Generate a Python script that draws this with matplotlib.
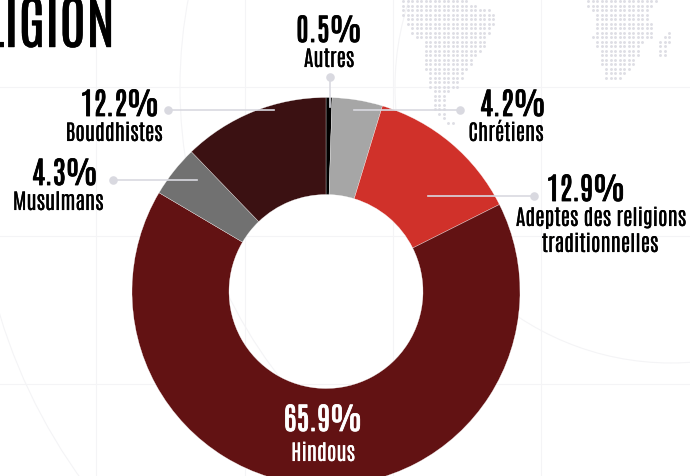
import matplotlib
matplotlib.use("Agg")
import matplotlib.pyplot as plt
import matplotlib.patheffects as pe
from matplotlib.patches import Circle

W, H = 690, 476

# religion split, clockwise from the top
labels = ["Autres", "Chrétiens", "Adeptes des religions\ntraditionnelles", "Hindous", "Musulmans", "Bouddhistes"]
shares = [0.5, 4.2, 12.9, 65.9, 4.3, 12.2]
colors = ["#000000", "#a6a6a6", "#d0312a", "#621213", "#717171", "#3b1112"]

# dotted map rows: (first column, last column), one entry per row
america_rows = [(0, 14), (0, 16), (0, 19), (0, 20), (1, 20), (1, 20), (2, 19), (2, 19), (3, 18), (5, 18),
                (5, 18), (5, 17), (5, 16), (5, 15), (5, 15), (5, 14), (6, 13), (6, 13), (6, 12), (6, 12),
                (7, 10), (7, 9), (7, 9), (7, 9), (7, 9), (8, 9), (9, 9), (10, 11)]
africa_rows = [(0, 15), (0, 14), (1, 13), (2, 13), (2, 13), (2, 14), (2, 14), (2, 14), (1, 14), (2, 12),
               (2, 11), (3, 11), (3, 11), (3, 10), (3, 10), (4, 9), (4, 8), (4, 7)]
island_rows = [(18, 18), (17, 18), (16, 18), (16, 17), (16, 17), (16, 17)]


def py(y):
    """Pixel row counted from the top -> data y."""
    return H - y


def draw_dots(ax, rows, x0, first_row=0):
    xs, ys = [], []
    for i, (a, b) in enumerate(rows):
        for col in range(a, b + 1):
            xs.append(x0 + col * 4.5)
            ys.append(py(1 + (first_row + i) * 4.5))
    ax.scatter(xs, ys, s=4.5, color="#dedee5", linewidths=0, zorder=1)


fig = plt.figure(figsize=(W / 100, H / 100), dpi=100)
ax = fig.add_axes([0, 0, 1, 1])

# faint background grid and circles
for x in [96, 245, 393, 541]:
    ax.plot([x, x], [0, H], color="#f4f4f6", lw=0.8, zorder=0)
for y in [87, 236, 384]:
    ax.plot([0, W], [py(y), py(y)], color="#f4f4f6", lw=0.8, zorder=0)
for cx, cy, r in [(671, 87, 276), (653, 87, 473), (531, 154, 555)]:
    ax.add_patch(Circle((cx, py(cy)), r, fill=False, edgecolor="#f4f4f6", lw=0.8, zorder=0))

draw_dots(ax, america_rows, 403)
draw_dots(ax, africa_rows, 588)
draw_dots(ax, island_rows, 588, first_row=7)

# donut
ax.pie(shares, colors=colors, startangle=90, counterclock=False, center=(326, py(291.5)), radius=194,
       frame=True, wedgeprops=dict(width=97, edgecolor="white", linewidth=0.2, zorder=2))
ax.set_xlim(0, W)
ax.set_ylim(0, H)
ax.set_aspect("equal")
ax.axis("off")

# leader lines with their end dots
LEAD = "#d9d9e0"
ax.plot([329.5, 329.5], [py(77), py(107)], color=LEAD, lw=1.2, zorder=3)
ax.plot([168, 274], [py(110), py(110)], color=LEAD, lw=1.2, zorder=3)
ax.plot([112.5, 197], [py(180), py(180)], color=LEAD, lw=1.2, zorder=3)
ax.plot([354, 460], [py(110), py(110)], color=LEAD, lw=1.2, zorder=3)
ax.plot([428, 534], [py(196), py(196)], color=LEAD, lw=1.2, zorder=3)
ax.scatter([329.5, 168, 112.5, 460, 534], [py(77), py(110), py(180), py(110), py(196)],
           s=38, color=LEAD, linewidths=0, zorder=3)

FONT = "Antonio"


def heavy(color, width):
    # the font ships one weight, so thicken it with a stroke
    return [pe.withStroke(linewidth=width, foreground=color)]


def put_value(x, base, share, color="black"):
    ax.text(x, py(base), f"{share}%", family=FONT, fontsize=22, color=color, ha="center", va="baseline",
            zorder=4, path_effects=heavy(color, 0.6))


def put_name(x, base, name, color="black"):
    ax.text(x, py(base), name, family=FONT, fontsize=15.5, color=color, ha="center", va="baseline",
            zorder=4, path_effects=heavy(color, 0.1))


ax.text(115, py(47), "LIGION", family=FONT, fontsize=42, color="black", ha="right", va="baseline", zorder=4,
        path_effects=heavy("black", 0.3))

put_value(329, 42, shares[0])
put_name(329, 67, labels[0])
put_value(513, 116, shares[1])
put_name(506, 141, labels[1])
put_value(586, 201, shares[2])
first, second = labels[2].split("\n")
put_name(601, 226, first)
put_name(600, 252, second)
put_value(323, 431, shares[3], "white")
put_name(323, 461, labels[3], "white")
put_value(65, 185, shares[4])
put_name(58, 210, labels[4])
put_value(120, 116, shares[5])
put_name(114, 141, labels[5])

fig.savefig("out.png", dpi=100)
